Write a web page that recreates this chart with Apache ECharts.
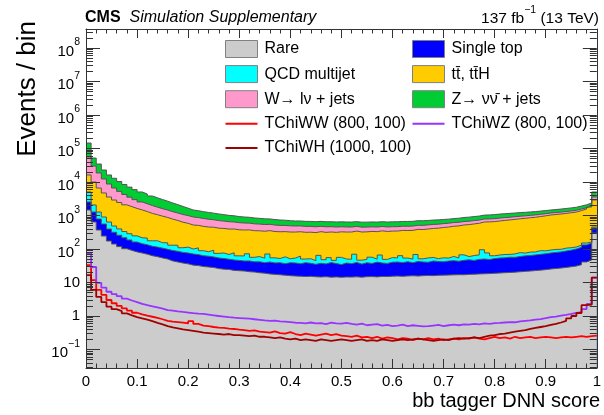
<!DOCTYPE html>
<html>
<head>
<meta charset="utf-8">
<script src="https://cdn.jsdelivr.net/npm/echarts@6.0.0/dist/echarts.min.js"></script>
<style>
html,body{margin:0;padding:0;background:#fff;}
#chart{width:604px;height:415px;}
</style>
</head>
<body>
<div id="chart"></div>
<script>
// ---------------- DATA (100 bins, 0..1) ----------------
const binCount = 100;
const xTickLabels = ['0','0.1','0.2','0.3','0.4','0.5','0.6','0.7','0.8','0.9','1'];
const yTickExponents = [-1,0,1,2,3,4,5,6,7,8];

const rare = [1460,640,369,244,173,141,118,102,91,82, 76,70,63,59,54,50,44,41,38,36, 33,32,30,29,28,26,25,24.5,23,22.5, 22,21,20.5,19.5,19,18,17.5,17,16.5,16, 15.6,15.4,15.1,15.3,14.8,14.6,14.9,14.4,14.7,14.3, 14.6,14.5,14.8,14.4,14.9,15.0,14.7,15.2,15.0,15.4, 15.6,15.3,15.7,15.9,15.6,16.0,16.2,16.0,16.4,16.6, 16.7,16.9,17.1,17.0,17.5,17.7,18.0,18.2,18.5,18.8, 19.2,19.6,20.0,20.4,20.9,21.5,22.0,22.7,23.4,24.2, 25.3,26.2,27.0,28.2,29.5,31,34,41,47,300];
const singleTop = [1070,630,418,313,222,175,140,115,95,80, 68,64,58,55,52,48,46,44,41,40, 38,36,33,32,30,28,27,25,24,23, 22,23,21,22,20,23,21,22,20,23, 22.6,21,24,22,20,23,21,25,22,20, 23.6,22,25,21,24,22,26,23,22,25, 25.3,24,26,23,27,25,24,28,26,25, 27,28,26,29,30,28,31,32,30,33, 34.6,35,37,36,39,41,42,44,46,48, 50.7,53,55,59,63,69,78,91,104,124];
const qcd = [2500,790,483,345,245,170,140,115,100,85, 72,78,55,62,48,55,40,44,30,38, 29,40,26,22,34,20,24,19,30,17, 18,28,15,18,14,30,16,13,22,12, 15.6,25,11,14,10,27,12,16,9,22, 12,13,30,11,10,20,9,28,12,15, 13,24,12,11,26,10,14,12,9,13, 10,15,11,21,12,18,18,45,28,11, 12.4,14,12,15,18,13,17,15,20,16, 17,18,16,19,17,15,18,19,11,30];
const ttbar = [11200,7900,5350,3800,2920,2410,2050,1750,1550,1380, 1250,1100,980,880,800,720,650,580,520,470, 420,400,385,370,355,345,335,325,318,312, 307,300,295,290,286,282,278,275,272,270, 267,266,265,266,264,265,266,267,268,269, 271,272,273,275,276,278,280,282,285,287, 290,296,302,310,318,330,342,355,368,384, 400,418,436,455,475,497,520,545,568,594, 620,645,670,695,720,748,776,805,840,890, 942,975,1010,1050,1100,1155,1270,1412,1633,2446];
const wjets = [39500,20000,12000,7600,5150,3720,2800,2150,1700,1350, 1070,930,820,720,640,580,520,475,440,410, 382,360,340,320,300,285,270,258,246,236, 228,220,212,205,198,192,186,180,175,170, 165,162,158,155,151,148,145,142,139,136, 133,131,129,127,126,124,123,122,121,120, 120,121,122,124,125,127,128,130,132,133, 135,137,138,140,141,143,144,146,147,149, 150,151,152,152,153,153,154,154,155,155, 155,156,157,158,159,160,158,140,145,665];
const zinv = [90000,22000,15800,10500,7500,6300,5100,4200,3500,2950, 2500,2150,1850,1600,1400,1220,1060,920,790,660, 558,520,490,460,430,405,380,358,338,320, 305,292,280,268,257,247,237,227,218,209, 200,198,196,194,193,191,190,189,188,187, 186,185,184,184,183,183,183,184,184,185, 186,186,187,187,188,188,189,189,190,190, 190,195,202,210,218,226,234,242,251,260, 268,268,268,269,269,269,269,270,270,270, 270,280,292,305,320,335,360,385,440,1465];

const tchiWW = [33,11.7,6.0,4.3,3.0,2.4,2.0,1.7,1.45,1.25, 1.12,1.02,0.95,0.88,0.8,0.72,0.68,0.66,0.63,0.6, 0.7,0.58,0.52,0.5,0.47,0.45,0.44,0.42,0.41,0.39, 0.38,0.36,0.37,0.34,0.33,0.32,0.35,0.31,0.3,0.33, 0.29,0.27,0.3,0.28,0.26,0.28,0.3,0.27,0.29,0.26, 0.25,0.24,0.26,0.23,0.24,0.22,0.24,0.21,0.23,0.22, 0.2,0.22,0.21,0.19,0.21,0.2,0.22,0.2,0.21,0.19, 0.2,0.21,0.2,0.22,0.21,0.23,0.21,0.2,0.22,0.24, 0.22,0.23,0.21,0.24,0.22,0.23,0.24,0.22,0.23,0.24, 0.23,0.22,0.23,0.24,0.23,0.24,0.25,0.24,0.25,0.26];
const tchiWZ = [76,29,9.8,7.0,5.3,4.5,3.9,3.3,2.9,2.6, 2.3,2.1,1.95,1.8,1.65,1.5,1.45,1.38,1.32,1.27, 1.22,1.18,1.15,1.1,1.05,1.0,0.96,0.92,0.89,0.87, 0.85,0.83,0.8,0.77,0.74,0.72,0.73,0.69,0.68,0.66, 0.63,0.62,0.6,0.64,0.6,0.61,0.57,0.63,0.6,0.59, 0.62,0.58,0.55,0.59,0.53,0.55,0.57,0.52,0.54,0.5, 0.52,0.55,0.5,0.53,0.51,0.49,0.5,0.52,0.54,0.5, 0.53,0.55,0.53,0.56,0.55,0.58,0.56,0.6,0.58,0.61, 0.62,0.64,0.66,0.65,0.69,0.72,0.74,0.78,0.81,0.86, 0.92,0.96,1.02,1.08,1.15,1.23,1.3,1.6,2.3,14];
const tchiWH = [16.6,6.0,3.7,2.6,1.9,1.6,1.4,1.2,1.05,0.93, 0.85,0.78,0.7,0.62,0.56,0.5,0.46,0.43,0.4,0.38, 0.36,0.34,0.32,0.31,0.3,0.29,0.28,0.29,0.27,0.27, 0.26,0.25,0.26,0.24,0.24,0.23,0.22,0.23,0.21,0.2, 0.21,0.19,0.2,0.19,0.18,0.2,0.19,0.18,0.19,0.2, 0.19,0.18,0.19,0.2,0.18,0.19,0.18,0.2,0.19,0.18, 0.19,0.2,0.19,0.2,0.21,0.2,0.19,0.18,0.19,0.2, 0.19,0.21,0.22,0.21,0.22,0.23,0.22,0.24,0.26,0.27, 0.29,0.3,0.32,0.34,0.36,0.38,0.41,0.44,0.47,0.5, 0.54,0.58,0.64,0.72,0.85,1.0,1.23,2.1,2.2,14];

// ---------------- CHART ----------------
const FONT = "'Liberation Sans', Arial, Helvetica, sans-serif";
const YMIN = -1.552, YMAX = 8.567;
const edges = Array.from({length: binCount + 1}, (_, i) => i / binCount);
const stepData = vals => edges.map((x, i) => [x, Math.log10(vals[Math.min(i, vals.length - 1)])]);

const stack = [
  {name: 'Rare', vals: rare, color: '#cccccc'},
  {name: 'Single top', vals: singleTop, color: '#0000ff'},
  {name: 'QCD multijet', vals: qcd, color: '#00ffff'},
  {name: 'tt\u0304, tt\u0304H', vals: ttbar, color: '#ffcc00'},
  {name: 'W\u2192 l\u03bd + jets', vals: wjets, color: '#ff99cc'},
  {name: 'Z\u2192 \u03bd\u03bd\u0304 + jets', vals: zinv, color: '#00cc33'}
];
let run = new Array(binCount).fill(0);
stack.forEach(s => { run = run.map((r, i) => r + s.vals[i]); s.cum = run.slice(); });

const signals = [
  {name: 'TChiWW (800, 100)', vals: tchiWW, color: '#ff0000'},
  {name: 'TChiWZ (800, 100)', vals: tchiWZ, color: '#9933ff'},
  {name: 'TChiWH (1000, 100)', vals: tchiWH, color: '#a00000'}
];

const series = [];
stack.slice().reverse().forEach(s => series.push({
  type: 'line', name: s.name, step: 'end', data: stepData(s.cum),
  symbol: 'none', showSymbol: false, clip: true,
  itemStyle: {color: s.color},
  lineStyle: {color: '#555555', width: 1},
  areaStyle: {color: s.color, opacity: 1, origin: 'start'},
  z: 2, silent: true
}));
signals.forEach(s => series.push({
  type: 'line', name: s.name, step: 'end', data: stepData(s.vals),
  symbol: 'none', showSymbol: false, clip: true,
  itemStyle: {color: s.color},
  lineStyle: {color: s.color, width: 1.8},
  z: 3, silent: true
}));

const minorY = [];
for (let n = -2; n <= 8; n++) for (let k = 2; k <= 9; k++) {
  const v = n + Math.log10(k);
  if (v > YMIN && v < YMAX) minorY.push(v);
}
const yFmt = v => {
  const e = Math.round(v);
  if (e === 0) return '{p|1}';
  if (e === 1) return '{p|10}';
  return '{m|10}{s|' + (e < 0 ? '\u2212' + (-e) : e) + '}';
};
const axisColor = '#333';
const legendItem = (s) => ({name: s.name, icon: 'rect', itemStyle: {color: s.color, borderColor: '#808080', borderWidth: 1}});
const lineLegend = (s) => ({name: s.name, icon: 'path://M0,0H32V2H0Z', itemStyle: {color: s.color, borderWidth: 0}});
const legendText = {fontFamily: FONT, fontSize: 16, color: '#000', lineHeight: 17, padding: [0, 0, 0, 2]};

const option = {
  animation: false,
  backgroundColor: '#fff',
  grid: {left: 86, right: 4, top: 29, bottom: 47, show: false},
  title: [
    {left: 85, top: 10, padding: 0,
     text: '{a|CMS}{b|Simulation Supplementary}',
     textStyle: {fontWeight: 'normal', rich: {
       a: {fontFamily: FONT, fontWeight: 'bold', fontSize: 16, color: '#000'},
       b: {fontFamily: FONT, fontWeight: 'normal', fontStyle: 'italic', fontSize: 16, color: '#000', padding: [0, 0, 0, 9]}
     }}},
    {right: 5, top: 5, padding: 0,
     text: '{m|137 fb}{s|\u22121}{m| (13 TeV)}',
     textStyle: {fontWeight: 'normal', rich: {
       m: {fontFamily: FONT, fontWeight: 'normal', fontSize: 15.5, color: '#000', verticalAlign: 'bottom', padding: [6, 0, 0, 0]},
       s: {fontFamily: FONT, fontWeight: 'normal', fontSize: 10.5, color: '#000', verticalAlign: 'top'}
     }}}
  ],
  legend: [
    {left: 225, top: 40, orient: 'vertical', padding: 0, itemWidth: 32, itemHeight: 17, itemGap: 7.1,
     selectedMode: false, textStyle: legendText,
     data: [legendItem(stack[0]), legendItem(stack[2]), legendItem(stack[4]), lineLegend(signals[0]), lineLegend(signals[2])]},
    {left: 412, top: 40, orient: 'vertical', padding: 0, itemWidth: 32, itemHeight: 17, itemGap: 7.1,
     selectedMode: false, textStyle: legendText,
     data: [legendItem(stack[1]), legendItem(stack[3]), legendItem(stack[5]), lineLegend(signals[1])]}
  ],
  xAxis: [
    {type: 'value', position: 'bottom', min: 0, max: 1, interval: 0.1, z: 10,
     axisLine: {show: true, onZero: false, lineStyle: {color: axisColor, width: 1}},
     axisTick: {show: true, inside: true, length: 9, lineStyle: {color: axisColor}},
     minorTick: {show: true, splitNumber: 5, length: 4.5, lineStyle: {color: axisColor}},
     axisLabel: {show: true, margin: 6, fontFamily: FONT, fontSize: 15, color: '#000',
                 formatter: v => xTickLabels[Math.round(v * 10)]},
     splitLine: {show: false}},
    {type: 'value', position: 'top', min: 0, max: 1, interval: 0.1, z: 10,
     axisLine: {show: true, onZero: false, lineStyle: {color: axisColor, width: 1}},
     axisTick: {show: true, inside: true, length: 9, lineStyle: {color: axisColor}},
     minorTick: {show: true, splitNumber: 5, length: 4.5, lineStyle: {color: axisColor}},
     axisLabel: {show: false}, splitLine: {show: false}}
  ],
  yAxis: [
    {type: 'value', position: 'left', min: YMIN, max: YMAX, z: 10,
     axisLine: {show: true, onZero: false, lineStyle: {color: axisColor, width: 1}},
     axisTick: {show: true, inside: true, length: 14, customValues: yTickExponents, lineStyle: {color: axisColor}},
     axisLabel: {show: true, margin: 6, customValues: yTickExponents, formatter: yFmt,
       rich: {
         p: {fontFamily: FONT, fontSize: 15, color: '#000'},
         m: {fontFamily: FONT, fontSize: 15, color: '#000', verticalAlign: 'bottom', padding: [7, 0, 0, 0]},
         s: {fontFamily: FONT, fontSize: 10.5, color: '#000', verticalAlign: 'top'}
       }},
     splitLine: {show: false}},
    {type: 'value', position: 'left', min: YMIN, max: YMAX, z: 10,
     axisLine: {show: false, onZero: false},
     axisTick: {show: true, inside: true, length: 7, customValues: minorY, lineStyle: {color: axisColor}},
     axisLabel: {show: false}, splitLine: {show: false}},
    {type: 'value', position: 'right', min: YMIN, max: YMAX, z: 10,
     axisLine: {show: true, onZero: false, lineStyle: {color: axisColor, width: 1}},
     axisTick: {show: true, inside: true, length: 14, customValues: yTickExponents, lineStyle: {color: axisColor}},
     axisLabel: {show: false}, splitLine: {show: false}},
    {type: 'value', position: 'right', min: YMIN, max: YMAX, z: 10,
     axisLine: {show: false, onZero: false},
     axisTick: {show: true, inside: true, length: 7, customValues: minorY, lineStyle: {color: axisColor}},
     axisLabel: {show: false}, splitLine: {show: false}}
  ],
  graphic: [
    {type: 'text', x: 28, y: 21, rotation: Math.PI / 2, z: 20,
     style: {text: 'Events / bin', font: '26px ' + FONT, fill: '#000', align: 'right', verticalAlign: 'middle',
             textAlign: 'right', textVerticalAlign: 'middle'}},
    {type: 'text', x: 600, y: 401, z: 20,
     style: {text: 'bb tagger DNN score', font: '20px ' + FONT, fill: '#000', align: 'right', verticalAlign: 'middle',
             textAlign: 'right', textVerticalAlign: 'middle'}}
  ],
  series: series
};

const chart = echarts.init(document.getElementById('chart'), null, {renderer: 'canvas', width: 604, height: 415});
chart.setOption(option);
</script>
</body>
</html>
